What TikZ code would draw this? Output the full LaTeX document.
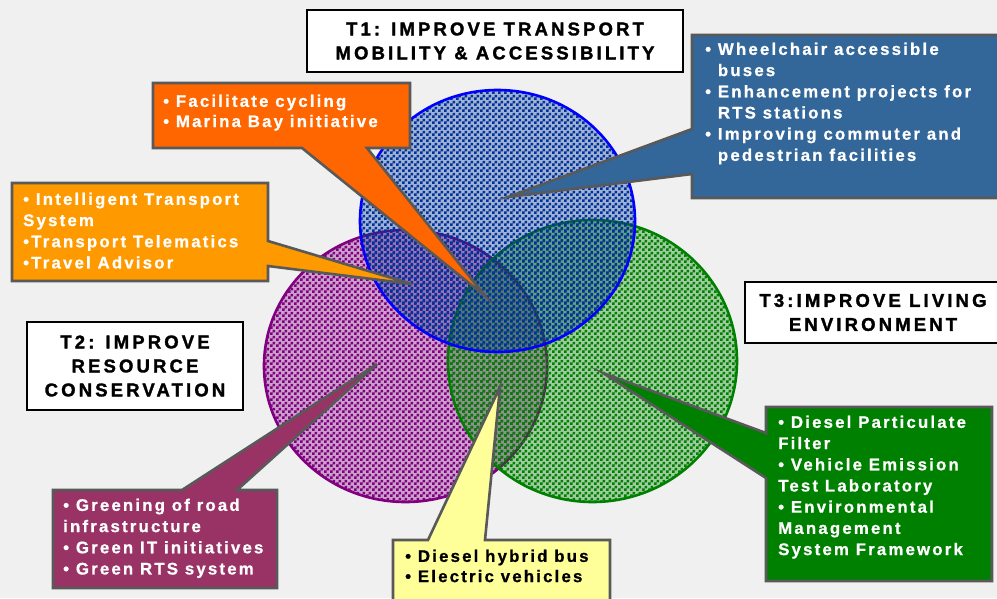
\documentclass[tikz,border=0pt]{standalone}
\usepackage{fontspec}
\setmainfont{Liberation Sans}
\newfontfamily\calloutfont[LetterSpace=13,FakeBold=0.8]{Liberation Sans Bold}
\newfontfamily\titlefont[LetterSpace=17,FakeBold=1.6]{Liberation Sans Bold}
\usetikzlibrary{patterns}
\definecolor{bgc}{HTML}{F0F0F0}
\definecolor{bordergray}{HTML}{595959}
\definecolor{bluebox}{HTML}{336699}
\definecolor{orangebox}{HTML}{FF6600}
\definecolor{amberbox}{HTML}{FF9900}
\definecolor{maroonbox}{HTML}{993366}
\definecolor{yellowbox}{HTML}{FFFF99}
\definecolor{greenbox}{HTML}{008000}
\definecolor{bluepat}{HTML}{003399}
\definecolor{purplepat}{HTML}{800080}
\definecolor{greenpat}{HTML}{008000}
\pgfdeclarepatternformonly{checkthree}{\pgfqpoint{0pt}{0pt}}{\pgfqpoint{6pt}{6pt}}{\pgfqpoint{6pt}{6pt}}{%
  \pgfpathrectangle{\pgfqpoint{0pt}{0pt}}{\pgfqpoint{3pt}{3pt}}%
  \pgfpathrectangle{\pgfqpoint{3pt}{3pt}}{\pgfqpoint{3pt}{3pt}}%
  \pgfusepath{fill}}
\tikzset{
  callout/.style={draw=bordergray, line width=2.6pt, line join=miter},
  titlebox/.style={draw=black, fill=white, line width=2.4pt, inner sep=0pt,
    align=center, font=\titlefont\fontsize{18.5}{24}\selectfont},
  txt/.style={anchor=north west, inner sep=0pt, align=left,
    font=\calloutfont\fontsize{16.8}{21.2}\selectfont, text=white},
  venntint/.style={fill opacity=0.33},
  venn/.style={pattern=checkthree, line width=2.6pt}
}
\begin{document}
\begin{tikzpicture}[x=1pt,y=-1pt]
\fill[bgc] (0,0) rectangle (997,598);
\useasboundingbox (0,0) rectangle (997,598);
\clip (0,0) rectangle (997,598);

% circles: tint then checker pattern
\fill[venntint, purplepat] (405.5,366) ellipse [x radius=141.5pt, y radius=136pt];
\path[venn, pattern color=purplepat, draw=purplepat] (405.5,366) ellipse [x radius=141.5pt, y radius=136pt];
\fill[venntint, greenpat] (592.5,361) ellipse [x radius=144.5pt, y radius=141pt];
\path[venn, pattern color=greenpat, draw=greenpat] (592.5,361) ellipse [x radius=144.5pt, y radius=141pt];
\fill[venntint, bluepat] (497.5,221) ellipse [x radius=137.5pt, y radius=131pt];
\path[venn, pattern color=bluepat, draw=blue] (497.5,221) ellipse [x radius=137.5pt, y radius=131pt];

% pointer tips
\coordinate (tipblue) at (508,197);
\coordinate (tiporange) at (485,296);
\coordinate (tipamber) at (412,284);
\coordinate (tipmaroon) at (377,364);
\coordinate (tipyellow) at (500,387);
\coordinate (tipgreen) at (603,373);

% title boxes
\node[titlebox, minimum width=376pt, minimum height=62pt] (t1) at (495,41) {T1: IMPROVE TRANSPORT\\MOBILITY \& ACCESSIBILITY};
\node[titlebox, minimum width=216pt, minimum height=88pt] (t2) at (135,366) {T2: IMPROVE\\RESOURCE\\CONSERVATION};
\draw[draw=black, fill=white, line width=2.4pt] (745,282) rectangle (1005,343);
\node[inner sep=0pt, align=center, font=\titlefont\fontsize{18.5}{24}\selectfont] (t3) at (873,312.5) {T3:IMPROVE LIVING\\ENVIRONMENT};

% callouts
\draw[callout, fill=bluebox] (692,35) -- (1003,35) -- (1003,198) -- (692,198) -- (692,174) -- (tipblue) -- (692,129) -- cycle;
\draw[callout, fill=orangebox] (153,83) -- (410,83) -- (410,148) -- (367,148) -- (tiporange) -- (302,148) -- (153,148) -- cycle;
\draw[callout, fill=amberbox] (12,183) -- (268,183) -- (268,241) -- (tipamber) -- (268,266) -- (268,281) -- (12,281) -- cycle;
\draw[callout, fill=maroonbox] (53,490) -- (182,490) -- (tipmaroon) -- (237,490) -- (277,490) -- (277,588) -- (53,588) -- cycle;
\draw[callout, fill=yellowbox] (393,540) -- (428,540) -- (tipyellow) -- (485,540) -- (610,540) -- (610,606) -- (393,606) -- cycle;
\draw[callout, fill=greenbox] (766,407) -- (992,407) -- (992,581) -- (766,581) -- (766,478) -- (tipgreen) -- (766,433) -- cycle;

% callout texts
\node[txt] (bluetxt) at (705,42.5) {• Wheelchair accessible\\\hphantom{• }buses\\• Enhancement projects for\\\hphantom{• }RTS stations\\• Improving commuter and\\\hphantom{• }pedestrian facilities};
\node[txt, font=\calloutfont\fontsize{16.8}{20.2}\selectfont] (orangetxt) at (163,94.5) {• Facilitate cycling\\• Marina Bay initiative};
\node[txt] (ambertxt) at (23,192.5) {• Intelligent Transport\\System\\•Transport Telematics\\•Travel Advisor};
\node[txt] (maroontxt) at (63,498.5) {• Greening of road\\infrastructure\\• Green IT initiatives\\• Green RTS system};
\node[txt, text=black, font=\calloutfont\fontsize{16.8}{20.2}\selectfont] (yellowtxt) at (405,549.5) {• Diesel hybrid bus\\• Electric vehicles};
\node[txt] (greentxt) at (778,415.5) {• Diesel Particulate\\Filter\\• Vehicle Emission\\Test Laboratory\\• Environmental\\Management\\System Framework};
\end{tikzpicture}
\end{document}
